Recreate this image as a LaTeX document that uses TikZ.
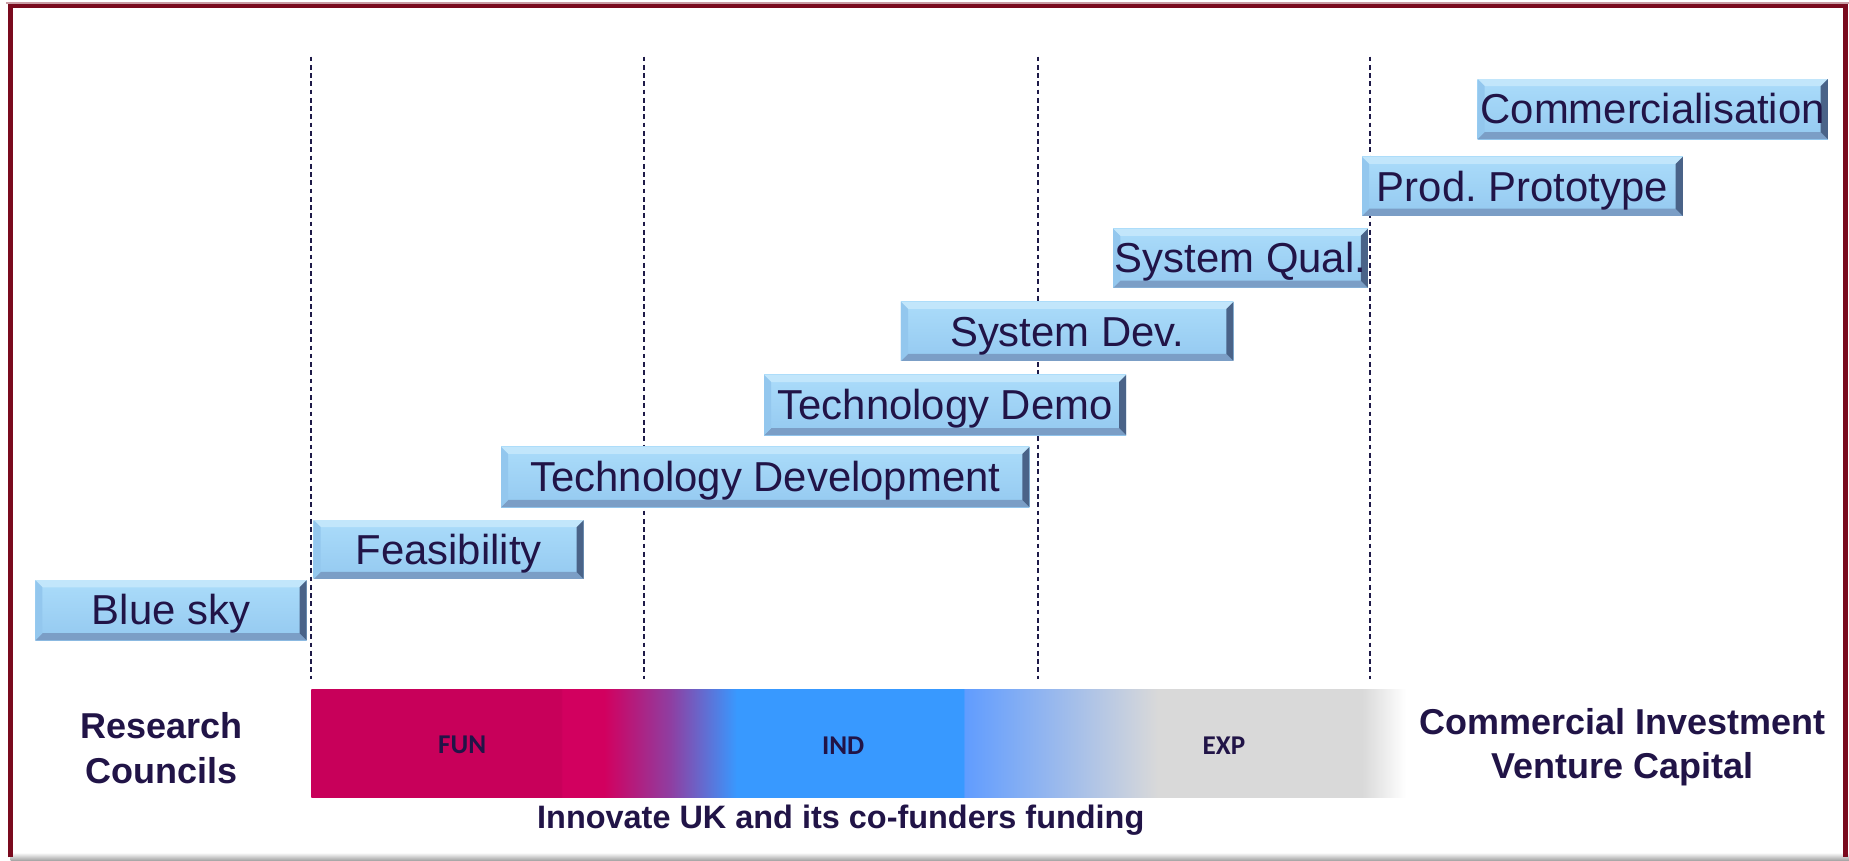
\documentclass[tikz,border=0pt]{standalone}
\usepackage{fontspec}
\setmainfont{Liberation Sans}
\newfontfamily\carlito{Carlito}

\definecolor{navy}{HTML}{211447}
\definecolor{frame}{HTML}{7A0A1E}
\definecolor{guide}{HTML}{1E1A48}
\definecolor{boxtop}{HTML}{C2E6FB}
\definecolor{boxhi}{HTML}{ABDCFA}
\definecolor{boxlo}{HTML}{94C9F0}
\definecolor{boxbot}{HTML}{7B9EC6}
\definecolor{boxleft}{HTML}{93C7EE}
\definecolor{boxright}{HTML}{4A6388}
\definecolor{fun}{HTML}{C8005A}
\definecolor{funhi}{HTML}{D2005F}
\definecolor{purp}{HTML}{8E3FA2}
\definecolor{ind}{HTML}{3899FF}
\definecolor{indlt}{HTML}{609CFF}
\definecolor{exp}{HTML}{D9D9D9}

% funding band colours, x = 264..1192 mapped onto 25bp..75bp
\pgfdeclarehorizontalshading{fundband}{100bp}{%
  color(0bp)=(fun); color(25bp)=(fun); color(36.42bp)=(fun);
  color(36.45bp)=(funhi); color(38.36bp)=(funhi);
  color(41.43bp)=(purp); color(44.45bp)=(ind); color(54.80bp)=(ind);
  color(54.83bp)=(indlt); color(63.69bp)=(exp); color(73.01bp)=(exp);
  color(75bp)=(white); color(100bp)=(white)}

\tikzset{
  stagebox/.style={
    inner sep=0pt, text height=25pt, text depth=0pt, text=navy,
    font=\fontsize{35.5}{40}\selectfont,
    path picture={
      \shade[top color=boxhi, bottom color=boxlo]
        (path picture bounding box.south west) rectangle (path picture bounding box.north east);
      % upper bevel
      \fill[boxtop]
        (path picture bounding box.north west) -- (path picture bounding box.north east)
        -- ([xshift=-6pt,yshift=-6pt]path picture bounding box.north east)
        -- ([xshift=6pt,yshift=-6pt]path picture bounding box.north west) -- cycle;
      % lower bevel
      \fill[boxbot]
        (path picture bounding box.south west) -- (path picture bounding box.south east)
        -- ([xshift=-6pt,yshift=6pt]path picture bounding box.south east)
        -- ([xshift=6pt,yshift=6pt]path picture bounding box.south west) -- cycle;
      % left bevel
      \fill[boxleft]
        (path picture bounding box.south west) -- (path picture bounding box.north west)
        -- ([xshift=6pt,yshift=-6pt]path picture bounding box.north west)
        -- ([xshift=6pt,yshift=6pt]path picture bounding box.south west) -- cycle;
      % right bevel
      \fill[boxright]
        (path picture bounding box.south east) -- (path picture bounding box.north east)
        -- ([xshift=-6pt,yshift=-6pt]path picture bounding box.north east)
        -- ([xshift=-6pt,yshift=6pt]path picture bounding box.south east) -- cycle;
    }},
  guideline/.style={draw=guide, line width=1.6pt, dash pattern=on 4pt off 3pt},
  funder/.style={text=navy, align=center, font=\bfseries\fontsize{30.5}{37.5}\selectfont},
  barlabel/.style={text=navy, font=\carlito\bfseries\fontsize{23}{26}\selectfont},
}

\begin{document}
\begin{tikzpicture}[x=1pt,y=-1pt]
  \useasboundingbox (0,0) rectangle (1568,730);
  \fill[white] (0,0) rectangle (1568,730);

  % picture frame
  \shade[top color=white, bottom color=black!38] (9,723) rectangle (1568,730);
  \draw[frame!40, line width=1pt] (5,2.5) -- (1568,2.5);
  \draw[frame, line width=4pt] (9,727) -- (9,5) -- (1565,5) -- (1565,727);

  % stage boundaries
  \foreach \gx in {264,546,880,1162}
    \draw[guideline] (\gx,48) -- (\gx,576);

  % readiness stages
  \node[stagebox, minimum width=230pt, minimum height=51pt] (bluesky)  at (145,517.5) {Blue sky};
  \node[stagebox, minimum width=229pt, minimum height=50pt] (feas)     at (380.5,466) {Feasibility};
  \node[stagebox, minimum width=448pt, minimum height=51pt] (techdev)  at (649,404.5) {Technology Development};
  \node[stagebox, minimum width=307pt, minimum height=51pt] (techdemo) at (801.5,343.5) {Technology Demo};
  \node[stagebox, minimum width=282pt, minimum height=50pt] (sysdev)   at (905,281) {System Dev.};
  \node[stagebox, minimum width=216pt, minimum height=50pt] (sysqual)  at (1052,219) {System Qual.};
  \node[stagebox, minimum width=272pt, minimum height=50pt] (prodproto) at (1291,158) {Prod.\ Prototype};
  \node[stagebox, minimum width=297pt, minimum height=51pt] (commerc)  at (1401.5,92.5) {Commercialisation};

  % funding band
  \shade[shading=fundband] (264,585) rectangle (1192,676);

  \node[barlabel] (fun) at (392,632) {FUN};
  \node[barlabel] (ind) at (715,632) {IND};
  \node[barlabel] (exp) at (1038,632) {EXP};

  % funding sources
  \node[funder] (rc) at (137,634.5) {Research\\Councils};
  \node[funder] (ci) at (1376,633.5) {Commercial Investment\\Venture Capital};
  \node[funder, font=\bfseries\fontsize{27.5}{32}\selectfont] (iuk) at (713,695.5) {Innovate UK and its co-funders funding};
\end{tikzpicture}
\end{document}
